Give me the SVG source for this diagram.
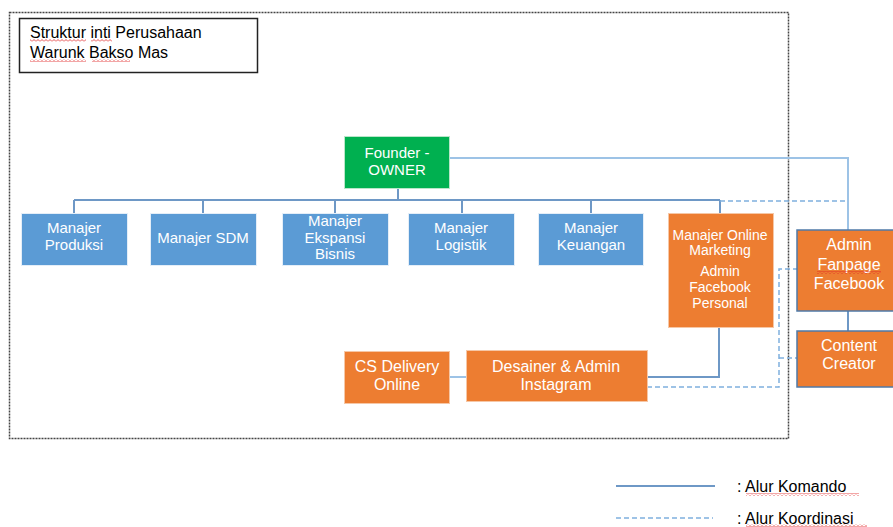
<svg xmlns="http://www.w3.org/2000/svg" width="893" height="527" viewBox="0 0 893 527">
  <defs>
    <pattern id="squiggle" width="4" height="3" patternUnits="userSpaceOnUse">
      <path d="M0,2.5 L2,0.5 L4,2.5" fill="none" stroke="#e02020" stroke-width="0.8"/>
    </pattern>
  </defs>
  <style>
    text { font-family: "Liberation Sans", Arial, sans-serif; fill: #ffffff; text-anchor: middle; }
    .title { fill: #000000; text-anchor: start; font-size: 16px; }
    .legend { fill: #000000; text-anchor: start; font-size: 16px; }
    .blue { fill: #5B9BD5; stroke: #e4eef8; stroke-width: 1; }
    .orange { fill: #ED7D31; stroke: #f6c7a6; stroke-width: 1; }
    .orange-dark { fill: #ED7D31; stroke: #4f7aa8; stroke-width: 1.5; }
    .green { fill: #00B050; stroke: #b9e6c9; stroke-width: 1; }
    .cmd { fill: none; stroke: #6e98c6; stroke-width: 2; }
    .cmd-light { fill: none; stroke: #9dc3e6; stroke-width: 2; }
    .coord { fill: none; stroke: #7fb0de; stroke-width: 1.5; stroke-dasharray: 5 3; }
    .sq { fill: url(#squiggle); }
    .f14 { font-size: 15px; }
    .f16 { font-size: 16px; }
    .mo { font-size: 14px; }
  </style>

  <!-- outer frame -->
  <rect x="9.5" y="12.5" width="779" height="426" fill="none" stroke="#444" stroke-width="1.5" stroke-dasharray="2 1"/>

  <!-- title box -->
  <g id="title">
    <rect x="19.5" y="18.5" width="238" height="54" fill="#ffffff" stroke="#222" stroke-width="1.5"/>
    <text class="title" x="30" y="38">Struktur inti Perusahaan</text>
    <text class="title" x="30" y="58">Warunk Bakso Mas</text>
    <rect class="sq" x="30" y="39" width="56" height="3"/>
    <rect class="sq" x="91" y="39" width="21" height="3"/>
    <rect class="sq" x="30" y="59" width="56" height="3"/>
    <rect class="sq" x="92" y="59" width="38" height="3"/>
  </g>

  <!-- connectors -->
  <g id="connectors">
    <!-- command lines -->
    <path class="cmd" d="M398,188 V200"/>
    <path class="cmd" d="M74,200 H720"/>
    <path class="cmd" d="M74,200 V213 M203,200 V213 M335,200 V213 M462,200 V213 M591,200 V213 M720,200 V213"/>
    <path class="cmd-light" d="M449,158 H848 V230"/>
    <path class="cmd" d="M848,311 V331"/>
    <path class="cmd" d="M719,327 V377 H647"/>
    <path class="cmd-light" d="M449,377 H466"/>
    <!-- coordination lines -->
    <path class="coord" d="M720,201 H848"/>
    <path class="coord" d="M647,387 H779 V269 H797"/>
    <path class="coord" d="M779,358 H797"/>
  </g>

  <!-- nodes -->
  <g id="founder">
    <rect class="green" x="344.5" y="136.5" width="105" height="52"/>
    <text class="f14" x="397" y="158">Founder -</text>
    <text class="f14" x="397" y="175">OWNER</text>
  </g>

  <g id="manajer-produksi">
    <rect class="blue" x="21.5" y="213.5" width="106" height="52"/>
    <text class="f14" x="74" y="233">Manajer</text>
    <text class="f14" x="74" y="250">Produksi</text>
  </g>

  <g id="manajer-sdm">
    <rect class="blue" x="150.5" y="213.5" width="106" height="52"/>
    <text class="f14" x="203" y="243">Manajer SDM</text>
  </g>

  <g id="manajer-ekspansi">
    <rect class="blue" x="282.5" y="213.5" width="106" height="52"/>
    <text class="f14" x="335" y="226">Manajer</text>
    <text class="f14" x="335" y="243">Ekspansi</text>
    <text class="f14" x="335" y="259">Bisnis</text>
  </g>

  <g id="manajer-logistik">
    <rect class="blue" x="408.5" y="213.5" width="106" height="52"/>
    <text class="f14" x="461" y="233">Manajer</text>
    <text class="f14" x="461" y="250">Logistik</text>
  </g>

  <g id="manajer-keuangan">
    <rect class="blue" x="538.5" y="213.5" width="105" height="52"/>
    <text class="f14" x="591" y="233">Manajer</text>
    <text class="f14" x="591" y="250">Keuangan</text>
  </g>

  <g id="manajer-online">
    <rect class="orange" x="668.5" y="213.5" width="105" height="114"/>
    <text class="mo" x="720" y="240">Manajer Online</text>
    <text class="mo" x="720" y="255">Marketing</text>
    <text class="mo" x="720" y="276">Admin</text>
    <text class="mo" x="720" y="292">Facebook</text>
    <text class="mo" x="720" y="308">Personal</text>
  </g>

  <g id="admin-fanpage">
    <rect class="orange-dark" x="797" y="230" width="100" height="81"/>
    <text class="f16" x="849" y="250">Admin</text>
    <text class="f16" x="849" y="270">Fanpage</text>
    <text class="f16" x="849" y="289">Facebook</text>
    <rect class="sq" x="817" y="271" width="64" height="3"/>
  </g>

  <g id="content-creator">
    <rect class="orange-dark" x="797" y="331" width="100" height="56"/>
    <text class="f16" x="849" y="351">Content</text>
    <text class="f16" x="849" y="369">Creator</text>
  </g>

  <g id="desainer-instagram">
    <rect class="orange" x="466.5" y="350.5" width="181" height="51"/>
    <text class="f16" x="556" y="372">Desainer &amp; Admin</text>
    <text class="f16" x="556" y="390">Instagram</text>
  </g>

  <g id="cs-delivery">
    <rect class="orange" x="344.5" y="351.5" width="105" height="52"/>
    <text class="f16" x="397" y="372">CS Delivery</text>
    <text class="f16" x="397" y="390">Online</text>
  </g>

  <!-- legend -->
  <g id="legend">
    <path class="cmd" d="M616,486 H715"/>
    <path class="coord" d="M616,518 H713" stroke-width="2"/>
    <text class="legend" x="737" y="492">: Alur Komando</text>
    <text class="legend" x="737" y="524">: Alur Koordinasi</text>
    <rect class="sq" x="746" y="493" width="113" height="3"/>
    <rect class="sq" x="746" y="524" width="121" height="3"/>
  </g>
</svg>
